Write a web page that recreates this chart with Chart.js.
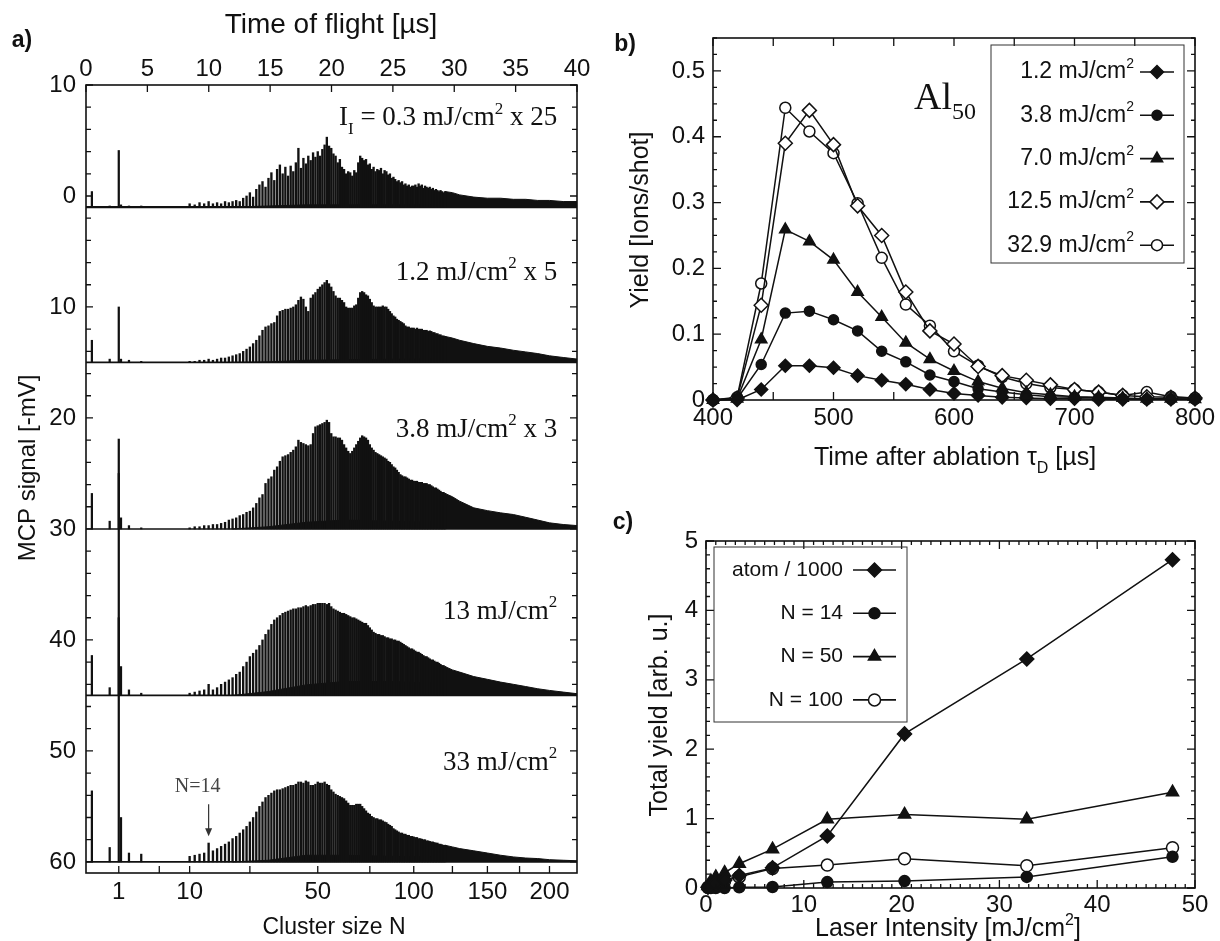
<!DOCTYPE html>
<html>
<head>
<meta charset="utf-8">
<title>Al cluster spectra</title>
<script src="https://cdn.jsdelivr.net/npm/chart.js@4.4.1/dist/chart.umd.min.js"></script>
<style>
  html, body { margin: 0; padding: 0; background: #fff; }
  #page { position: relative; width: 1220px; height: 941px; overflow: hidden; }
  #page canvas { position: absolute; }
</style>
</head>
<body>
<div id="page">
  <canvas id="chart-spectra" width="600" height="941" style="left:0;top:0;width:600px;height:941px"></canvas>
  <canvas id="chart-delay" width="620" height="480" style="left:600px;top:0;width:620px;height:480px"></canvas>
  <canvas id="chart-intensity" width="620" height="461" style="left:600px;top:480px;width:620px;height:461px"></canvas>
</div>
<script>
// ---------- panel a: mass spectra ----------
// flight time grows with sqrt(N)
const TOF_PER_SQRT_N = 2.67;
const tof = n => TOF_PER_SQRT_N * Math.sqrt(n);

const tofTicks = [0, 5, 10, 15, 20, 25, 30, 35, 40];
const sizeTicks = [1, 10, 50, 100, 150, 200];
const sizeMinorTicks = [5, 25, 75, 125, 175];

// resolved cluster peaks, N = 10 ... 120
const clusterSizes = [
  10, 11, 12, 13, 14, 15, 16, 17, 18, 19,
  20, 21, 22, 23, 24, 25, 26, 27, 28, 29,
  30, 31, 32, 33, 34, 35, 36, 37, 38, 39,
  40, 41, 42, 43, 44, 45, 46, 47, 48, 49,
  50, 51, 52, 53, 54, 55, 56, 57, 58, 59,
  60, 61, 62, 63, 64, 65, 66, 67, 68, 69,
  70, 71, 72, 73, 74, 75, 76, 77, 78, 79,
  80, 81, 82, 83, 84, 85, 86, 87, 88, 89,
  90, 91, 92, 93, 94, 95, 96, 97, 98, 99,
  100, 101, 102, 103, 104, 105, 106, 107, 108, 109,
  110, 111, 112, 113, 114, 115, 116, 117, 118, 119,
  120
];
// envelope of the unresolved large clusters
const tailSizes = [120, 125, 130, 140, 150, 160, 170, 180, 190, 200, 212, 225];
// raised signal under the peaks
const humpSizes = [20, 31, 45, 62, 88, 112, 141, 172, 225];
// H+, light species, Al+ and its neighbours [us]
const atomTof = [0.48, 1.93, 2.67, 2.85, 3.5, 4.5];

const spectrumBase = [1.0, 15.0, 30.0, 45.0, 60.0];

// peak heights [-mV], one value per cluster size
const peaks03 = [
  0.3, 0.2, 0.4, 0.3, 0.5, 0.3, 0.4, 0.3, 0.5, 0.4,
  0.5, 0.6, 0.5, 0.8, 1.0, 1.3, 0.9, 1.6, 2.0, 2.3,
  1.8, 2.6, 3.1, 2.4, 3.4, 3.8, 3.0, 3.6, 2.8, 3.7,
  3.2, 4.0, 5.3, 3.5, 4.4, 3.9, 4.6, 4.2, 4.9, 4.5,
  5.0, 4.6, 5.2, 5.6, 6.3, 5.5, 5.3, 4.8, 4.6, 4.0,
  4.3, 3.6, 3.4, 3.0, 3.2, 3.1, 2.8, 3.3, 3.1, 4.0,
  4.6, 4.4, 4.2, 4.3, 3.8, 3.9, 3.4, 3.6, 3.2, 3.4,
  3.3, 3.5, 3.0, 3.3, 3.2, 2.9, 3.0, 2.6, 2.7, 2.5,
  2.3, 2.4, 2.2, 2.3, 2.0, 2.1, 1.9, 2.0, 1.8, 1.9,
  1.9, 2.0, 1.8, 2.1, 1.9, 2.0, 1.7, 1.9, 1.8, 1.7,
  1.8, 1.6, 1.7, 1.5, 1.6, 1.5, 1.4, 1.5, 1.4, 1.3,
  1.4
];
const peaks12 = [
  0.1, 0.1, 0.2, 0.2, 0.3, 0.2, 0.3, 0.4, 0.4, 0.5,
  0.6, 0.7, 0.8, 1.0, 1.2, 1.4, 1.7, 2.0, 2.4, 2.9,
  3.2, 3.3, 3.5, 3.6, 4.2, 4.6, 4.7, 4.8, 4.8, 4.9,
  5.0, 5.2, 5.6, 5.9, 5.7, 5.0, 4.6, 5.8, 6.1, 6.3,
  6.6, 6.8, 7.0, 7.2, 7.4, 7.1, 6.8, 6.4, 6.0, 5.8,
  5.8, 5.6, 5.4, 5.0, 4.9, 4.9, 4.9, 5.1, 5.2, 5.8,
  6.3, 6.4, 6.3, 6.1, 6.0, 5.7, 5.4, 5.1, 5.0, 5.0,
  5.0, 5.0, 5.1, 5.0, 5.0, 4.8, 4.6, 4.4, 4.2, 4.1,
  3.9, 3.8, 3.7, 3.6, 3.5, 3.3, 3.2, 3.2, 3.1, 3.1,
  3.1, 3.0, 3.1, 3.0, 3.0, 3.0, 2.9, 2.9, 2.9, 2.8,
  2.85, 2.8, 2.7, 2.7, 2.6, 2.6, 2.5, 2.5, 2.4, 2.4,
  2.35
];
const peaks38 = [
  0.1, 0.2, 0.2, 0.3, 0.3, 0.4, 0.4, 0.5, 0.6, 0.8,
  0.9, 1.0, 1.2, 1.3, 1.5, 1.6, 1.9, 2.3, 2.8, 3.1,
  4.1, 4.5, 4.7, 5.3, 5.6, 6.1, 6.5, 6.6, 6.7, 6.9,
  7.1, 7.4, 8.0, 7.8, 7.7, 7.6, 7.5, 7.6, 8.6, 9.2,
  9.3, 9.4, 9.5, 9.6, 9.8, 9.6, 8.6, 8.3, 8.3, 8.2,
  8.2, 8.0, 7.6, 7.3, 7.0, 6.8, 7.0, 7.3, 7.6, 7.9,
  8.2, 8.4, 8.3, 8.2, 8.0, 7.6, 7.3, 7.1, 6.9, 6.8,
  6.7, 6.6, 6.5, 6.4, 6.3, 6.1, 6.0, 5.8, 5.6, 5.5,
  5.3, 5.1, 4.9, 4.8, 4.7, 4.7, 4.6, 4.5, 4.4, 4.4,
  4.3, 4.3, 4.3, 4.2, 4.2, 4.2, 4.1, 4.1, 4.1, 4.0,
  4.0, 3.9, 3.8, 3.7, 3.7, 3.6, 3.5, 3.4, 3.3, 3.3,
  3.2
];
const peaks13 = [
  0.2, 0.3, 0.4, 0.5, 1.0, 0.5, 0.7, 1.0, 1.2, 1.4,
  1.6, 1.9, 2.1, 2.6, 3.0, 3.5, 3.8, 4.1, 4.5, 5.0,
  5.5, 5.9, 6.4, 6.8, 7.0, 7.2, 7.4, 7.5, 7.6, 7.7,
  7.8, 7.8, 7.9, 7.9, 8.0, 8.1, 8.0, 8.1, 8.2, 8.2,
  8.3, 8.3, 8.3, 8.3, 8.2, 8.3, 8.0, 7.8, 7.7, 7.6,
  7.5, 7.4, 7.4, 7.3, 7.2, 7.1, 7.0, 7.0, 6.9, 6.8,
  6.7, 6.6, 6.5, 6.5, 6.3, 6.1, 5.9, 5.7, 5.6, 5.5,
  5.5, 5.4, 5.4, 5.3, 5.2, 5.2, 5.1, 5.1, 5.0, 5.0,
  4.9, 4.9, 4.8, 4.7, 4.6, 4.5, 4.4, 4.3, 4.2, 4.2,
  4.1, 4.0, 3.9, 3.9, 3.8, 3.7, 3.6, 3.5, 3.5, 3.4,
  3.3, 3.2, 3.2, 3.1, 3.0, 3.0, 2.9, 2.8, 2.7, 2.7,
  2.6
];
const peaks33 = [
  0.5, 0.6, 0.7, 0.8, 1.7, 1.0, 1.2, 1.4, 1.6, 1.8,
  2.1, 2.3, 2.6, 2.9, 3.2, 3.6, 4.0, 4.5, 5.0, 5.4,
  5.8, 6.0, 6.2, 6.4, 6.5, 6.5, 6.6, 6.7, 6.8, 6.9,
  6.9, 7.0, 7.2, 7.2, 7.1, 7.3, 7.2, 6.9, 6.9, 7.0,
  7.2, 7.1, 7.1, 7.2, 7.0, 6.9, 6.5, 6.3, 6.1, 6.0,
  5.9, 5.8, 5.7, 5.5, 5.3, 5.1, 5.1, 5.1, 5.2, 5.2,
  5.2, 5.0, 4.8, 4.6, 4.4, 4.3, 4.1, 4.0, 3.9, 3.9,
  3.8, 3.8, 3.7, 3.6, 3.55, 3.4, 3.3, 3.2, 3.0, 2.9,
  2.8, 2.7, 2.6, 2.6, 2.5, 2.5, 2.4, 2.4, 2.3, 2.3,
  2.25, 2.2, 2.2, 2.1, 2.1, 2.05, 2.0, 2.0, 1.9, 1.9,
  1.85, 1.8, 1.8, 1.75, 1.7, 1.7, 1.6, 1.6, 1.55, 1.5,
  1.5
];

const tail03 = [1.4, 1.3, 1.1, 0.9, 0.8, 0.8, 0.7, 0.7, 0.6, 0.6, 0.5, 0.5];
const tail12 = [2.35, 2.2, 2.0, 1.7, 1.45, 1.3, 1.1, 0.95, 0.8, 0.6, 0.45, 0.3];
const tail38 = [3.2, 2.9, 2.5, 1.9, 1.65, 1.45, 1.3, 1.05, 0.8, 0.55, 0.4, 0.3];
const tail13 = [2.6, 2.3, 2.1, 1.7, 1.45, 1.2, 1.0, 0.8, 0.6, 0.45, 0.3, 0.15];
const tail33 = [1.5, 1.35, 1.2, 1.0, 0.8, 0.6, 0.45, 0.35, 0.3, 0.2, 0.15, 0.1];

const hump03 = [0, 0.1, 0.2, 0.2, 0.2, 0.2, 0.15, 0.1, 0.05];
const hump12 = [0, 0.05, 0.2, 0.25, 0.3, 0.3, 0.25, 0.15, 0.05];
const hump38 = [0, 0.2, 0.6, 0.8, 0.7, 0.6, 0.6, 0.4, 0.1];
const hump13 = [0, 0.35, 0.95, 1.25, 1.25, 1.1, 0.75, 0.35, 0.1];
const hump33 = [0, 0.15, 0.6, 0.6, 0.5, 0.45, 0.3, 0.2, 0.05];

const atoms03 = [1.4, 0.1, 5.1, 0.2, 0.1, 0.1];
const atoms12 = [2.0, 0.3, 5.0, 0.3, 0.2, 0.1];
const atoms38 = [3.2, 0.7, 8.1, 1.0, 0.3, 0.1];
const atoms13 = [3.6, 0.7, 20.0, 2.6, 0.5, 0.2];
const atoms33 = [6.4, 1.3, 22.0, 4.0, 0.8, 0.7];

// ---------- panel b: yield of Al50 vs. delay ----------
const delayTimes = [400, 420, 440, 460, 480, 500, 520, 540, 560, 580, 600, 620, 640, 660, 680, 700, 720, 740, 760, 780, 800];
const delayIntensities = ['1.2', '3.8', '7.0', '12.5', '32.9'];
const yield12 = [0, 0, 0.016, 0.052, 0.052, 0.049, 0.037, 0.030, 0.024, 0.016, 0.010, 0.007, 0.004, 0.003, 0.002, 0.002, 0.001, 0.001, 0.001, 0.001, 0.001];
const yield38 = [0, 0.002, 0.054, 0.132, 0.135, 0.122, 0.105, 0.074, 0.058, 0.038, 0.028, 0.017, 0.012, 0.008, 0.005, 0.004, 0.003, 0.002, 0.001, 0.001, 0.001];
const yield70 = [0, 0.002, 0.092, 0.259, 0.241, 0.213, 0.164, 0.126, 0.087, 0.062, 0.044, 0.028, 0.018, 0.011, 0.008, 0.005, 0.004, 0.003, 0.002, 0.002, 0.001];
const yield125 = [0, 0.003, 0.144, 0.390, 0.440, 0.388, 0.295, 0.250, 0.164, 0.105, 0.085, 0.051, 0.037, 0.030, 0.023, 0.016, 0.012, 0.007, 0.005, 0.004, 0.003];
const yield329 = [0, 0.004, 0.177, 0.444, 0.408, 0.375, 0.299, 0.216, 0.145, 0.113, 0.074, 0.052, 0.035, 0.025, 0.019, 0.016, 0.012, 0.007, 0.012, 0.005, 0.003];

// ---------- panel c: total yield vs. laser intensity ----------
const laserIntensity = [0.2, 0.5, 1.0, 1.9, 3.4, 6.8, 12.4, 20.3, 32.8, 47.7];
const yieldAtom = [0.01, 0.03, 0.07, 0.11, 0.18, 0.29, 0.75, 2.22, 3.30, 4.73];
const yieldN14 = [0, 0, 0, 0, 0.01, 0.015, 0.085, 0.10, 0.16, 0.45];
const yieldN50 = [0.03, 0.10, 0.16, 0.22, 0.35, 0.56, 0.99, 1.06, 0.99, 1.38];
const yieldN100 = [0.01, 0.03, 0.06, 0.10, 0.16, 0.28, 0.33, 0.42, 0.32, 0.58];

// ---------- shared drawing helpers ----------
const INK = '#111';
const SANS = '"Liberation Sans", Arial, sans-serif';
const SERIF = '"Liberation Serif", "Times New Roman", serif';
const tickFont = { family: SANS, size: 24 };
const noGrid = { display: false, drawTicks: false };

function fixedSize(px) {
  return scale => {
    if (scale.isHorizontal()) scale.height = px; else scale.width = px;
  };
}

function steps(from, to, step) {
  const out = [];
  for (let v = from; v <= to + step / 1000; v += step) out.push(+v.toFixed(4));
  return out;
}

// text with sub- and superscripts; parts are strings or {t, sub|sup}
function drawRich(ctx, parts, x, y, o) {
  const size = o.size, small = Math.round(size * 0.62);
  const weight = o.weight || 'normal';
  const items = parts.map(p => (typeof p === 'string' ? { t: p } : Object.assign({}, p)));
  let w = 0;
  items.forEach(p => {
    ctx.font = `${weight} ${p.sub || p.sup ? small : size}px ${o.family}`;
    p.w = ctx.measureText(p.t).width;
    w += p.w;
  });
  ctx.save();
  ctx.translate(x, y);
  if (o.rotate) ctx.rotate(o.rotate);
  let cx = o.align === 'right' ? -w : o.align === 'center' ? -w / 2 : 0;
  ctx.fillStyle = o.color || INK;
  ctx.textAlign = 'left';
  ctx.textBaseline = 'middle';
  items.forEach(p => {
    ctx.font = `${weight} ${p.sub || p.sup ? small : size}px ${o.family}`;
    const dy = p.sub ? size * (o.subShift || 0.3) : p.sup ? -size * 0.34 : 0;
    ctx.fillText(p.t, cx, dy);
    cx += p.w;
  });
  ctx.restore();
}

// frame plus inward tick marks
function frameTicks(marks) {
  return {
    id: 'frameTicks',
    afterDatasetsDraw(chart) {
      const ctx = chart.ctx, a = chart.chartArea;
      ctx.save();
      ctx.strokeStyle = INK;
      ctx.lineWidth = 1.3;
      ctx.beginPath();
      marks.forEach(m => {
        const sc = chart.scales[m.scale];
        m.values.forEach(v => {
          const p = sc.getPixelForValue(v);
          m.sides.forEach(s => {
            if (s === 'bottom') { ctx.moveTo(p, a.bottom); ctx.lineTo(p, a.bottom - m.len); }
            if (s === 'top') { ctx.moveTo(p, a.top); ctx.lineTo(p, a.top + m.len); }
            if (s === 'left') { ctx.moveTo(a.left, p); ctx.lineTo(a.left + m.len, p); }
            if (s === 'right') { ctx.moveTo(a.right, p); ctx.lineTo(a.right - m.len, p); }
          });
        });
      });
      ctx.stroke();
      ctx.lineWidth = 1.6;
      ctx.strokeRect(a.left, a.top, a.right - a.left, a.bottom - a.top);
      ctx.restore();
    }
  };
}

// free text: titles, panel letters, trace labels (pos in px, or at in data units)
function annotate(items, arrows) {
  return {
    id: 'annotate',
    afterDraw(chart) {
      const ctx = chart.ctx;
      items.forEach(it => {
        let px, py;
        if (it.at) {
          px = chart.scales.x.getPixelForValue(it.at[0]);
          py = chart.scales.y.getPixelForValue(it.at[1]);
        } else {
          px = it.pos[0];
          py = it.pos[1];
        }
        drawRich(ctx, it.parts, px, py, it);
      });
      (arrows || []).forEach(ar => {
        const px = chart.scales.x.getPixelForValue(ar.at[0]);
        const y0 = chart.scales.y.getPixelForValue(ar.at[1]);
        const y1 = chart.scales.y.getPixelForValue(ar.at[2]);
        ctx.save();
        ctx.strokeStyle = ctx.fillStyle = '#333';
        ctx.lineWidth = 1.2;
        ctx.beginPath(); ctx.moveTo(px, y0); ctx.lineTo(px, y1 - 6); ctx.stroke();
        ctx.beginPath(); ctx.moveTo(px - 3.5, y1 - 8); ctx.lineTo(px + 3.5, y1 - 8); ctx.lineTo(px, y1); ctx.closePath(); ctx.fill();
        ctx.restore();
      });
    }
  };
}

// boxed legend: text, then a line sample carrying the marker
function boxLegend(cfg) {
  return {
    id: 'boxLegend',
    afterDraw(chart) {
      const ctx = chart.ctx, b = cfg.box;
      ctx.save();
      ctx.strokeStyle = '#333';
      ctx.lineWidth = 1;
      ctx.strokeRect(b[0], b[1], b[2] - b[0], b[3] - b[1]);
      chart.data.datasets.forEach((ds, i) => {
        const ly = cfg.firstY + i * cfg.gap;
        const label = ds.label;
        const parts = label.endsWith('²') ? [label.slice(0, -1), { t: '2', sup: true }] : [label];
        drawRich(ctx, parts, cfg.textRight, ly, { size: cfg.size, family: SANS, align: 'right' });
        ctx.strokeStyle = INK;
        ctx.lineWidth = 1.6;
        ctx.beginPath(); ctx.moveTo(cfg.lineFrom, ly); ctx.lineTo(cfg.lineTo, ly); ctx.stroke();
        ctx.fillStyle = ds.pointBackgroundColor;
        ctx.strokeStyle = INK;
        ctx.lineWidth = ds.pointBorderWidth;
        Chart.helpers.drawPoint(ctx, {
          pointStyle: ds.pointStyle, radius: ds.pointRadius, rotation: 0, borderWidth: ds.pointBorderWidth
        }, (cfg.lineFrom + cfg.lineTo) / 2, ly);
      });
      ctx.restore();
    }
  };
}

// ---------- panel a datasets ----------
const spectra = [
  { base: spectrumBase[0], peaks: peaks03, tail: tail03, hump: hump03, atoms: atoms03, noise: 2.2 },
  { base: spectrumBase[1], peaks: peaks12, tail: tail12, hump: hump12, atoms: atoms12, noise: 1.7 },
  { base: spectrumBase[2], peaks: peaks38, tail: tail38, hump: hump38, atoms: atoms38, noise: 1.6 },
  { base: spectrumBase[3], peaks: peaks13, tail: tail13, hump: hump13, atoms: atoms13, noise: 1.6 },
  { base: spectrumBase[4], peaks: peaks33, tail: tail33, hump: hump33, atoms: atoms33, noise: 1.6 }
];

const spectrumSets = [];
spectra.forEach(s => {
  spectrumSets.push({
    type: 'bar', grouped: false, barThickness: 1.7, backgroundColor: INK, borderWidth: 0,
    data: clusterSizes.map((n, i) => ({ x: tof(n), y: [s.base, s.base - s.peaks[i]] }))
  });
  spectrumSets.push({
    type: 'bar', grouped: false, barThickness: 1.6, backgroundColor: INK, borderWidth: 0,
    data: atomTof.map((t, i) => ({ x: t, y: [s.base, s.base - s.atoms[i]] }))
  });
  spectrumSets.push({
    type: 'line', borderColor: INK, borderWidth: 1, backgroundColor: INK, pointRadius: 0,
    fill: { value: s.base },
    data: tailSizes.map((n, i) => ({ x: tof(n), y: s.base - s.tail[i] }))
  });
  spectrumSets.push({
    type: 'line', borderColor: INK, borderWidth: 1, backgroundColor: INK, pointRadius: 0,
    fill: { value: s.base },
    data: humpSizes.map((n, i) => ({ x: tof(n), y: s.base - s.hump[i] }))
  });
  spectrumSets.push({
    type: 'line', borderColor: INK, borderWidth: s.noise, pointRadius: 0, fill: false,
    data: [{ x: 0, y: s.base }, { x: 40, y: s.base }]
  });
});

const sup2 = { t: '2', sup: true };

new Chart(document.getElementById('chart-spectra'), {
  type: 'line',
  data: { datasets: spectrumSets },
  plugins: [
    frameTicks([
      { scale: 'xTop', values: tofTicks, sides: ['top'], len: 7 },
      { scale: 'x', values: sizeTicks.map(tof), sides: ['bottom'], len: 7 },
      { scale: 'x', values: sizeMinorTicks.map(tof), sides: ['bottom'], len: 7 },
      { scale: 'y', values: steps(-10, 60, 10), sides: ['left', 'right'], len: 7 },
      { scale: 'y', values: steps(-10, 60, 2), sides: ['left', 'right'], len: 5 }
    ]),
    annotate([
      { parts: ['a)'], pos: [22, 41], size: 23, weight: 'bold', family: SANS, align: 'center' },
      { parts: ['Time of flight [µs]'], pos: [331, 25], size: 28, family: SANS, align: 'center' },
      { parts: ['Cluster size N'], pos: [334, 928], size: 23, family: SANS, align: 'center' },
      { parts: ['MCP signal [-mV]'], pos: [28, 468], size: 24, family: SANS, align: 'center', rotate: -Math.PI / 2 },
      { parts: ['I', { t: 'I', sub: true }, ' = 0.3 mJ/cm', sup2, ' x 25'], at: [38.4, -7.0], size: 27, family: SERIF, align: 'right', subShift: 0.42 },
      { parts: ['1.2 mJ/cm', sup2, ' x 5'], at: [38.4, 6.9], size: 27, family: SERIF, align: 'right' },
      { parts: ['3.8 mJ/cm', sup2, ' x 3'], at: [38.4, 21.1], size: 27, family: SERIF, align: 'right' },
      { parts: ['13 mJ/cm', sup2], at: [38.4, 37.5], size: 27, family: SERIF, align: 'right' },
      { parts: ['33 mJ/cm', sup2], at: [38.4, 51.1], size: 27, family: SERIF, align: 'right' },
      { parts: ['N=14'], at: [9.1, 53.2], size: 20, family: SERIF, align: 'center', color: '#444' }
    ], [{ at: [tof(14), 54.8, 57.7] }])
  ],
  options: {
    responsive: false, animation: false, events: [], devicePixelRatio: 1,
    layout: { padding: { right: 23 } },
    plugins: { legend: { display: false }, tooltip: { enabled: false } },
    scales: {
      x: {
        type: 'linear', position: 'bottom', min: 0, max: 40, offset: false,
        grid: noGrid, border: { display: false },
        afterBuildTicks: s => { s.ticks = sizeTicks.map(n => ({ value: tof(n) })); },
        ticks: { autoSkip: false, maxRotation: 0, padding: 5, font: tickFont, color: INK, callback: (v, i) => sizeTicks[i] },
        afterFit: fixedSize(68)
      },
      xTop: {
        type: 'linear', position: 'top', min: 0, max: 40, offset: false,
        grid: noGrid, border: { display: false },
        afterBuildTicks: s => { s.ticks = tofTicks.map(v => ({ value: v })); },
        ticks: { autoSkip: false, maxRotation: 0, padding: 1, font: tickFont, color: INK },
        afterFit: fixedSize(85)
      },
      y: {
        type: 'linear', reverse: true, min: -10, max: 61,
        grid: noGrid, border: { display: false },
        ticks: { stepSize: 10, includeBounds: false, padding: 10, font: tickFont, color: INK, callback: v => Math.abs(v) },
        afterFit: fixedSize(86)
      }
    }
  }
});

// ---------- panel b ----------
const delayStyles = [
  { pointStyle: 'rectRot', pointRadius: 6.5, pointBackgroundColor: INK },
  { pointStyle: 'circle', pointRadius: 5, pointBackgroundColor: INK },
  { pointStyle: 'triangle', pointRadius: 6.5, pointBackgroundColor: INK },
  { pointStyle: 'rectRot', pointRadius: 7, pointBackgroundColor: '#fff' },
  { pointStyle: 'circle', pointRadius: 5.5, pointBackgroundColor: '#fff' }
];
const delaySeries = [yield12, yield38, yield70, yield125, yield329];

new Chart(document.getElementById('chart-delay'), {
  type: 'line',
  data: {
    datasets: delaySeries.map((vals, i) => Object.assign({
      label: `${delayIntensities[i]} mJ/cm²`,
      data: delayTimes.map((t, k) => ({ x: t, y: vals[k] })),
      borderColor: INK, borderWidth: 1.5, pointBorderColor: INK, pointBorderWidth: 1.5,
      tension: 0, fill: false
    }, delayStyles[i]))
  },
  plugins: [
    frameTicks([
      { scale: 'x', values: steps(400, 800, 50), sides: ['bottom', 'top'], len: 8 },
      { scale: 'y', values: steps(0, 0.5, 0.1), sides: ['left', 'right'], len: 8 },
      { scale: 'y', values: steps(0, 0.55, 0.025), sides: ['left', 'right'], len: 4 }
    ]),
    annotate([
      { parts: ['b)'], pos: [25, 45], size: 23, weight: 'bold', family: SANS, align: 'center' },
      { parts: ['Al', { t: '50', sub: true }], pos: [314, 99], size: 38, family: SERIF, align: 'left', subShift: 0.36 },
      { parts: ['Yield [Ions/shot]'], pos: [41, 220], size: 25, family: SANS, align: 'center', rotate: -Math.PI / 2 },
      { parts: ['Time after ablation τ', { t: 'D', sub: true }, ' [µs]'], pos: [355, 458], size: 25, family: SANS, align: 'center', subShift: 0.42 }
    ]),
    boxLegend({ box: [391, 45, 584, 263], firstY: 72, gap: 43.3, textRight: 534, lineFrom: 540, lineTo: 574, size: 23 })
  ],
  options: {
    responsive: false, animation: false, events: [], devicePixelRatio: 1,
    clip: false,
    layout: { padding: { top: 38, right: 25 } },
    plugins: { legend: { display: false }, tooltip: { enabled: false } },
    scales: {
      x: {
        type: 'linear', min: 400, max: 800,
        grid: noGrid, border: { display: false },
        ticks: { stepSize: 100, padding: 4, font: tickFont, color: INK, maxRotation: 0 },
        afterFit: fixedSize(80)
      },
      y: {
        type: 'linear', min: 0, max: 0.55,
        grid: noGrid, border: { display: false },
        ticks: { stepSize: 0.1, includeBounds: false, padding: 8, font: tickFont, color: INK, callback: v => (v === 0 ? '0' : v.toFixed(1)) },
        afterFit: fixedSize(113)
      }
    }
  }
});

// ---------- panel c ----------
const intensityLabels = ['atom / 1000', 'N = 14', 'N = 50', 'N = 100'];
const intensitySeries = [yieldAtom, yieldN14, yieldN50, yieldN100];
const intensityStyles = [
  { pointStyle: 'rectRot', pointRadius: 7, pointBackgroundColor: INK },
  { pointStyle: 'circle', pointRadius: 5.5, pointBackgroundColor: INK },
  { pointStyle: 'triangle', pointRadius: 7, pointBackgroundColor: INK },
  { pointStyle: 'circle', pointRadius: 6, pointBackgroundColor: '#fff' }
];

new Chart(document.getElementById('chart-intensity'), {
  type: 'line',
  data: {
    datasets: intensitySeries.map((vals, i) => Object.assign({
      label: intensityLabels[i],
      data: laserIntensity.map((v, k) => ({ x: v, y: vals[k] })),
      borderColor: INK, borderWidth: 1.5, pointBorderColor: INK, pointBorderWidth: 1.5,
      tension: 0, fill: false
    }, intensityStyles[i]))
  },
  plugins: [
    frameTicks([
      { scale: 'x', values: steps(0, 50, 10), sides: ['bottom', 'top'], len: 8 },
      { scale: 'x', values: steps(0, 50, 1), sides: ['bottom', 'top'], len: 4 },
      { scale: 'y', values: steps(0, 5, 1), sides: ['left', 'right'], len: 8 },
      { scale: 'y', values: steps(0, 5, 0.2), sides: ['left', 'right'], len: 4 }
    ]),
    annotate([
      { parts: ['c)'], pos: [23, 43], size: 23, weight: 'bold', family: SANS, align: 'center' },
      { parts: ['Total yield [arb. u.]'], pos: [60, 235], size: 25, family: SANS, align: 'center', rotate: -Math.PI / 2 },
      { parts: ['Laser Intensity [mJ/cm', sup2, ']'], pos: [348, 449], size: 25, family: SANS, align: 'center' }
    ]),
    boxLegend({ box: [114, 67, 307, 242], firstY: 90, gap: 43.3, textRight: 243, lineFrom: 253, lineTo: 296, size: 21 })
  ],
  options: {
    responsive: false, animation: false, events: [], devicePixelRatio: 1,
    clip: false,
    layout: { padding: { top: 61, right: 25 } },
    plugins: { legend: { display: false }, tooltip: { enabled: false } },
    scales: {
      x: {
        type: 'linear', min: 0, max: 50,
        grid: noGrid, border: { display: false },
        ticks: { stepSize: 10, padding: 3, font: tickFont, color: INK, maxRotation: 0 },
        afterFit: fixedSize(53)
      },
      y: {
        type: 'linear', min: 0, max: 5,
        grid: noGrid, border: { display: false },
        ticks: { stepSize: 1, padding: 8, font: tickFont, color: INK },
        afterFit: fixedSize(106)
      }
    }
  }
});
</script>
</body>
</html>
